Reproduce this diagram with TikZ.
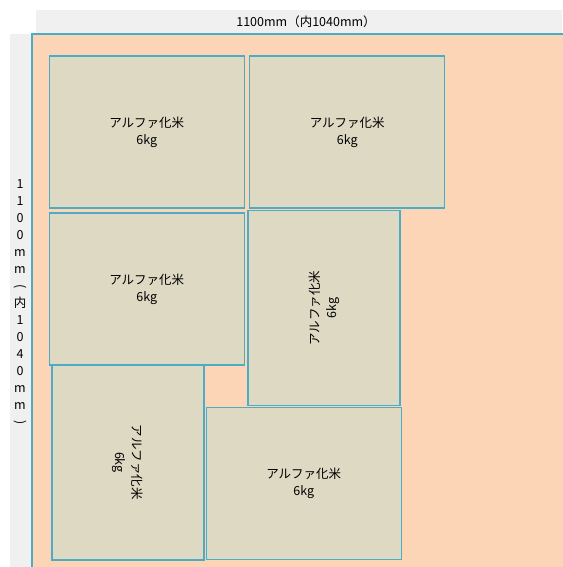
\documentclass[tikz,border=0pt]{standalone}
\usepackage{fontspec}
\setmainfont{Noto Sans CJK JP}
\usetikzlibrary{positioning}
\definecolor{palletfill}{HTML}{FBD5B5}
\definecolor{sackfill}{HTML}{DDD9C3}
\definecolor{rimblue}{HTML}{4BACC6}
\definecolor{bandgray}{HTML}{F0F0F0}

\begin{document}
\begin{tikzpicture}[x=1pt, y=-1pt, font=\fontsize{12.5}{17}\selectfont,
	sack/.style={rectangle, draw=rimblue, fill=sackfill, line width=1.4pt, inner sep=0pt,
		minimum width=195pt, minimum height=152pt, align=center},
	band/.style={fill=bandgray, draw=none}]
	\useasboundingbox (0,0) rectangle (562,567);
	\fill[white] (0,0) rectangle (562,567);

	% measurement bands
	\fill[band] (36,10) rectangle (562,34);
	\fill[band] (9.5,34) rectangle (31.5,567);
	\node (widthlabel) at (306,22) {1100mm（内1040mm）};
	\node[align=center, font=\fontsize{12.5}{17}\selectfont] (heightlabel) at (20,303)
		{1\\1\\0\\0\\m\\m\\\rotatebox[origin=c]{-90}{(}\\内\\1\\0\\4\\0\\m\\m\\\rotatebox[origin=c]{-90}{)}};

	% pallet
	\filldraw[fill=palletfill, draw=rimblue, line width=1.6pt] (31.7,34.3) rectangle (570,575);

	% sacks
	\node[sack] (riceA) at (146.8,132.1) {アルファ化米\\6kg};
	\node[sack, right = 4pt of riceA] (riceB) {アルファ化米\\6kg};
	\node[sack, below = 3.4pt of riceA] (riceC) {アルファ化米\\6kg};
	\node[sack, rotate=90] (riceD) at (323.9,308) {アルファ化米\\6kg};
	\node[sack, rotate=-90] (riceE) at (127.9,462.4) {アルファ化米\\6kg};
	\node[sack] (riceF) at (303.8,483.6) {アルファ化米\\6kg};
\end{tikzpicture}
\end{document}
